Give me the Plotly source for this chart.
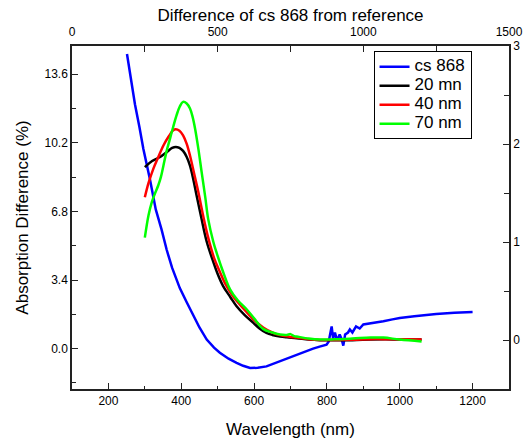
import plotly.graph_objects as go

# ---- data ----
cs868_nm = [251, 262, 273, 285, 296, 314, 330, 346, 360, 375, 396, 415, 433, 450, 470, 490, 506, 530,
            552, 570, 589, 610, 634, 660, 680, 700, 726, 745, 762, 780, 799, 805, 810, 813, 817, 822,
            828, 835, 840, 845, 850, 858, 863, 870, 880, 890, 900, 920, 940, 955, 980, 1000, 1040,
            1074, 1100, 1150, 1200]
cs868_val = [14.6, 13.3, 12.1, 11.0, 9.9, 8.4, 6.9, 5.9, 4.9, 4.0, 3.0, 2.3, 1.65, 1.05, 0.45, 0.05, -0.2,
             -0.5, -0.7, -0.85, -0.96, -0.95, -0.88, -0.7, -0.55, -0.42, -0.25, -0.1, 0.0, 0.1, 0.2, 0.35,
             0.9, 1.1, 0.5, 0.8, 0.4, 0.7, 0.5, 0.15, 0.7, 0.8, 0.95, 0.8, 1.1, 1.0, 1.2, 1.25, 1.3, 1.36,
             1.45, 1.52, 1.6, 1.68, 1.72, 1.78, 1.82]

mn20_nm = [300, 320, 342, 360, 375, 385, 395, 405, 415, 424, 433, 442, 455, 470, 488, 500, 515, 535, 552,
           575, 598, 615, 634, 650, 671, 690, 717, 750, 781, 820, 870, 920, 960, 1000, 1060]
mn20_val = [9.0, 9.3, 9.5, 9.74, 9.95, 10.0, 9.95, 9.8, 9.5, 9.07, 8.4, 7.6, 6.5, 5.3, 4.3, 3.7, 3.1, 2.55,
            2.1, 1.65, 1.28, 1.0, 0.78, 0.68, 0.6, 0.56, 0.52, 0.45, 0.42, 0.42, 0.42, 0.45, 0.46, 0.45, 0.45]

nm40_nm = [300, 310, 323, 337, 351, 365, 378, 385, 395, 405, 415, 424, 435, 447, 460, 474, 490, 505, 520,
           540, 560, 580, 600, 625, 650, 671, 700, 717, 750, 781, 820, 870, 920, 960, 1000, 1060]
nm40_val = [7.5, 8.2, 8.9, 9.5, 10.07, 10.5, 10.82, 10.87, 10.8, 10.57, 10.15, 9.57, 8.7, 7.75, 6.6, 5.5,
            4.5, 3.85, 3.25, 2.65, 2.2, 1.8, 1.42, 1.05, 0.8, 0.67, 0.58, 0.55, 0.47, 0.43, 0.43, 0.44,
            0.47, 0.47, 0.46, 0.45]

nm70_nm = [300, 310, 319, 328, 337, 344, 351, 360, 369, 378, 387, 396, 405, 415, 424, 431, 438, 447, 456,
           466, 474, 488, 497, 515, 534, 555, 580, 600, 625, 650, 671, 690, 700, 710, 717, 750, 781, 820,
           870, 920, 955, 1000, 1060]
nm70_val = [5.5, 6.6, 7.25, 7.7, 8.1, 8.5, 9.07, 9.8, 10.4, 11.0, 11.56, 12.0, 12.23, 12.15, 11.9, 11.5,
            10.9, 9.9, 8.75, 7.5, 6.42, 5.3, 4.76, 3.8, 2.94, 2.4, 1.94, 1.5, 0.98, 0.8, 0.7, 0.68, 0.72,
            0.62, 0.6, 0.5, 0.45, 0.46, 0.5, 0.55, 0.55, 0.45, 0.36]

series_names = ["cs 868", "20 mn", "40 nm", "70 nm"]

FONT = "Arial, Liberation Sans, sans-serif"
AX = "#222222"


def leg(name):
    return '<span style="font-size:17px">%s</span>' % name


fig = go.Figure()
fig.add_trace(go.Scatter(x=cs868_nm, y=cs868_val, mode="lines", name=leg(series_names[0]),
                         line=dict(color="#0000FF", width=2.5)))
fig.add_trace(go.Scatter(x=mn20_nm, y=mn20_val, mode="lines", name=leg(series_names[1]),
                         line=dict(color="#000000", width=2.5, shape="spline")))
fig.add_trace(go.Scatter(x=nm40_nm, y=nm40_val, mode="lines", name=leg(series_names[2]),
                         line=dict(color="#FF0000", width=2.5, shape="spline")))
fig.add_trace(go.Scatter(x=nm70_nm, y=nm70_val, mode="lines", name=leg(series_names[3]),
                         line=dict(color="#00FF00", width=2.5, shape="spline")))
# empty trace to instantiate the top / right axes
fig.add_trace(go.Scatter(x=[], y=[], xaxis="x2", yaxis="y2", showlegend=False, hoverinfo="skip"))

axis_common = dict(showgrid=False, zeroline=False, showline=True, linecolor=AX, linewidth=1.5,
                   ticks="inside", ticklen=6, tickwidth=1, tickcolor=AX,
                   tickfont=dict(family=FONT, size=12, color="#000"))

TITLE_FONT = dict(family=FONT, size=17, color="#000")

fig.update_layout(
    width=523, height=440,
    margin=dict(l=72, r=14, t=46, b=51),
    paper_bgcolor="white", plot_bgcolor="white",
    font=dict(family=FONT, color="#000"),
    showlegend=True,
    legend=dict(x=0.69, y=0.985, xanchor="left", yanchor="top",
                bgcolor="white", bordercolor="#000", borderwidth=1,
                font=dict(family=FONT, size=12), tracegroupgap=0),
    xaxis=dict(range=[100, 1300], tick0=0, dtick=200, side="bottom",
               minor=dict(ticks="inside", ticklen=3, dtick=100, tickcolor=AX),
               title=dict(text="Wavelength (nm)", font=TITLE_FONT, standoff=16),
               automargin=False, **axis_common),
    yaxis=dict(range=[-2, 15], tick0=0, dtick=3.4, tickformat=".1f",
               minor=dict(ticks="inside", ticklen=4, dtick=1.7, tickcolor=AX),
               title=dict(text="Absorption Difference (%)", font=TITLE_FONT, standoff=12),
               automargin=False, **axis_common),
    xaxis2=dict(range=[0, 1500], tick0=0, dtick=500, side="top", overlaying="x", anchor="y",
                minor=dict(ticks="inside", ticklen=6, dtick=250, tickcolor=AX),
                title=dict(text="Difference of cs 868 from reference", font=TITLE_FONT, standoff=0),
                ticklabelstandoff=3,
                automargin=False, **axis_common),
    yaxis2=dict(range=[-0.5, 3], tick0=0, dtick=1, side="right", overlaying="y", anchor="x",
                minor=dict(ticks="inside", ticklen=5, dtick=0.5, tickcolor=AX),
                automargin=False, **axis_common),
)

fig.write_html("out.html", config={"displayModeBar": False},
               post_script="document.body.style.margin='0';")
